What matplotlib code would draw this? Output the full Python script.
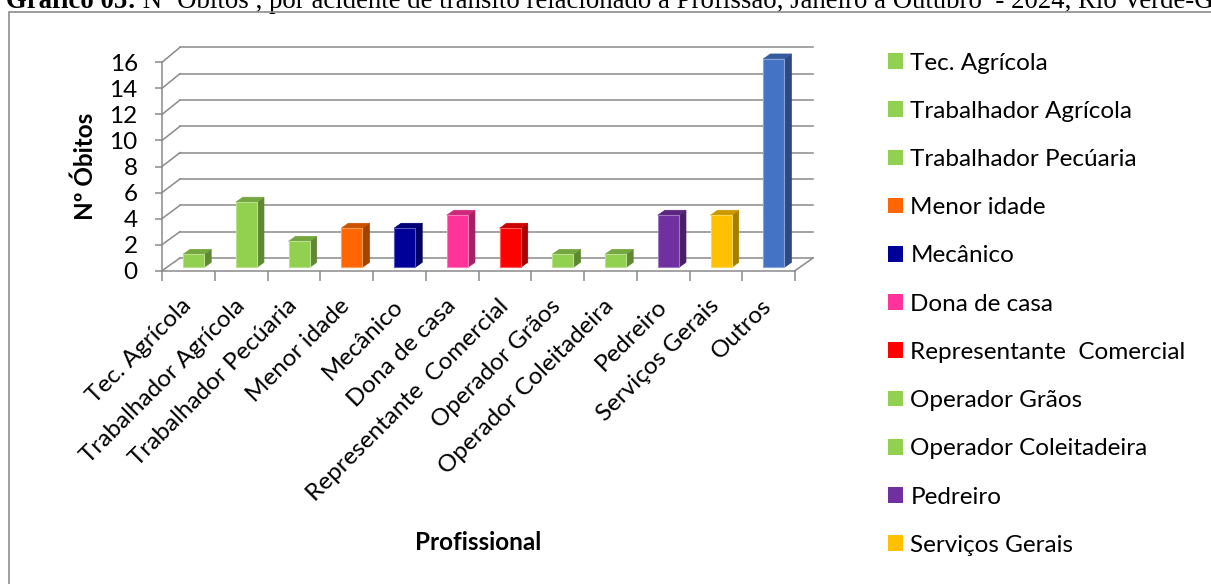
import numpy as np
import matplotlib
matplotlib.use("Agg")
import matplotlib.pyplot as plt
from matplotlib.patches import Polygon, Rectangle, Patch
from matplotlib.colors import to_rgb

# --- data ---
categories = [
    "Tec. Agrícola", "Trabalhador Agrícola", "Trabalhador Pecúaria", "Menor idade",
    "Mecânico", "Dona de casa", "Representante  Comercial", "Operador Grãos",
    "Operador Coleitadeira", "Pedreiro", "Serviços Gerais", "Outros",
]
obitos = [1, 5, 2, 3, 3, 4, 3, 1, 1, 4, 4, 16]
bar_colors = [
    "#92D050", "#92D050", "#92D050", "#FF6600", "#000099", "#FF3399",
    "#FF0000", "#92D050", "#92D050", "#7030A0", "#FFC000", "#4472C4",
]
yticks = list(range(0, 17, 2))

title_bold = "Gráfico 05:"
title_rest = " Nº Óbitos , por acidente de trânsito relacionado à Profissão, Janeiro a Outubro  - 2024, Rio Verde-GO"

GRID = "#8A8A8A"
FS = 17.5
TITLE_FS = 19.3

# 3D look (in data units)
DX = 0.341                      # wall depth along x
def back_y(v):                  # back-wall height of level v (slight perspective)
    return 0.975 + 1.011 * v
BW, SX, SY = 0.40, 0.10, 0.26   # bar width, bar shift into the depth
BDX, BDY = 0.133, 0.38          # bar depth


def shade(c, k):
    r, g, b = to_rgb(c)
    return (r * k, g * k, b * k)


def lighten(c, k):
    r, g, b = to_rgb(c)
    return (r + (1 - r) * k, g + (1 - g) * k, b + (1 - b) * k)


plt.rcParams["font.family"] = ["Lato", "DejaVu Sans"]

W, H = 1211, 584
fig = plt.figure(figsize=(W / 100, H / 100), dpi=100)

# outer chart frame (clipped on right/bottom like the source)
fig.add_artist(Rectangle((8.5 / W, -0.05), 1.2, 1 - 12 / H + 0.05,
                         transform=fig.transFigure, fill=False,
                         edgecolor="#8C8C8C", lw=1.2))

# title, mostly cut off at the top of the page
t1 = fig.text(6 / W, 1 - 7.5 / H, title_bold, family="Liberation Serif",
              weight="bold", fontsize=TITLE_FS, va="baseline", ha="left")

ax = fig.add_axes([162 / W, 1 - 270.7 / H, 633 / W, 208.4 / H])
ax.annotate(title_rest, xy=(1, 0), xycoords=t1, va="bottom", ha="left",
            family="Liberation Serif", fontsize=TITLE_FS, annotation_clip=False)

n = len(categories)
x = np.arange(n)
ax.set_xlim(-0.5, n - 0.5)
ax.set_ylim(0, 16)

# back wall gridlines + side-wall diagonals
for v in yticks:
    ax.plot([-0.5 + DX, n - 0.5 + DX], [back_y(v), back_y(v)], color=GRID,
            lw=1.1, clip_on=False, zorder=1)
    ax.plot([-0.5, -0.5 + DX], [v, back_y(v)], color=GRID, lw=1.1,
            clip_on=False, zorder=1)
ax.plot([n - 0.5, n - 0.5 + DX], [0, back_y(0)], color=GRID, lw=1.1,
        clip_on=False, zorder=1)

# 3D bars
for xi, v, c in zip(x, obitos, bar_colors):
    x0, x1 = xi - BW / 2 + SX, xi + BW / 2 + SX
    y0, y1 = SY, SY + v
    side = [(x1, y0), (x1 + BDX, y0 + BDY), (x1 + BDX, y1 + BDY), (x1, y1)]
    top = [(x0, y1), (x1, y1), (x1 + BDX, y1 + BDY), (x0 + BDX, y1 + BDY)]
    front = [(x0, y0), (x1, y0), (x1, y1), (x0, y1)]
    ax.add_patch(Polygon(side, closed=True, facecolor=shade(c, 0.65),
                         edgecolor=shade(c, 0.65), lw=0.5, clip_on=False, zorder=3))
    ax.add_patch(Polygon(top, closed=True, facecolor=shade(c, 0.8),
                         edgecolor=shade(c, 0.8), lw=0.5, clip_on=False, zorder=3))
    ax.add_patch(Polygon(front, closed=True, facecolor=c,
                         edgecolor=lighten(c, 0.35), lw=0.8, clip_on=False, zorder=4))

# axes styling
for s in ("top", "right"):
    ax.spines[s].set_visible(False)
for s in ("left", "bottom"):
    ax.spines[s].set_color(GRID)
    ax.spines[s].set_linewidth(1.1)

ax.set_yticks(yticks)
ax.tick_params(axis="y", length=5, width=1.1, color=GRID, pad=12.5, labelsize=FS)

ax.set_xticks(x)
ax.set_xticks(np.arange(-0.5, n), minor=True)
ax.set_xticklabels(categories, rotation=45, ha="right", va="center",
                   rotation_mode="anchor", fontsize=FS)
ax.tick_params(axis="x", which="major", length=0, pad=23)
ax.tick_params(axis="x", which="minor", length=7, width=1.1, color=GRID)

ax.set_ylabel("Nº Óbitos", fontsize=FS, weight="bold", va="center")
ax.yaxis.set_label_coords(-0.1216, 0.5)
ax.set_xlabel("Profissional", fontsize=FS, weight="bold", va="center")
ax.xaxis.set_label_coords(0.5, -1.302)

# legend: the source only fits the first 11 entries
handles = [Patch(facecolor=c, edgecolor="none") for c in bar_colors[:-1]]
fig.legend(handles, categories[:-1], loc="upper left",
           bbox_to_anchor=(888 / W, 1 - 52.5 / H), frameon=False, fontsize=FS,
           handlelength=0.62, handleheight=0.62, handletextpad=0.3,
           labelspacing=1.12, borderpad=0, borderaxespad=0)

fig.savefig("out.png", dpi=100)
